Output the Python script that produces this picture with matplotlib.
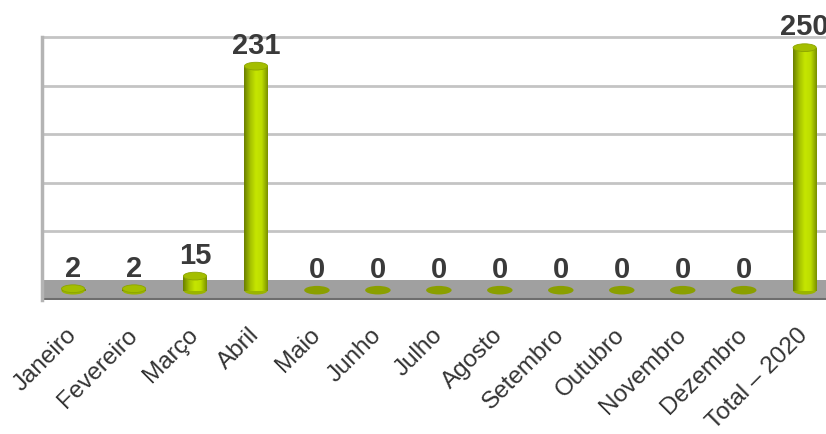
import numpy as np
import matplotlib.pyplot as plt
from matplotlib.colors import LinearSegmentedColormap
from matplotlib.patches import Ellipse, Rectangle

months = ["Janeiro", "Fevereiro", "Março", "Abril", "Maio", "Junho", "Julho",
          "Agosto", "Setembro", "Outubro", "Novembro", "Dezembro", "Total – 2020"]
values = [2, 2, 15, 231, 0, 0, 0, 0, 0, 0, 0, 0, 250]
grid_values = [50, 100, 150, 200, 250]

plt.rcParams["font.family"] = ["Liberation Sans", "DejaVu Sans"]

BAR_W = 0.38
ELL_H = 8.0
FRONT = -11.0  # bars stand in front of the back wall
body_cmap = LinearSegmentedColormap.from_list(
    "cyl", ["#6a7f00", "#a4c000", "#c6e600", "#bcdc00", "#7a9000"])

fig = plt.figure(figsize=(8.26, 4.34), dpi=100)
ax = fig.add_axes([42 / 826, 134 / 434, 784 / 826, 263 / 434])
ax.set_xlim(-0.51, 12.35)
ax.set_ylim(-20.6, 250)

# back wall grid
for g in grid_values:
    ax.axhline(g, color="#c4c4c4", lw=2, zorder=1, clip_on=False)

# floor
x0, x1 = ax.get_xlim()
ax.add_patch(Rectangle((x0, -20.6), x1 - x0, 20.6, facecolor="#a0a0a0",
                       edgecolor="none", zorder=2))
ax.axhline(-19.5, color="#6e6e6e", lw=2.2, zorder=2.5)

grad = np.linspace(0, 1, 64).reshape(1, -1)
for i, v in enumerate(values):
    if v == 0:
        ax.add_patch(Ellipse((i, FRONT + 0.5), BAR_W * 1.1, ELL_H * 1.1,
                             facecolor="#8a9f00", edgecolor="none", zorder=3))
        top = FRONT + 0.5 + ELL_H * 0.55
    else:
        ax.add_patch(Ellipse((i, FRONT), BAR_W, ELL_H, facecolor="#9ab400",
                             edgecolor="none", zorder=3))
        ax.imshow(grad, cmap=body_cmap, aspect="auto", zorder=3.5,
                  extent=(i - BAR_W / 2, i + BAR_W / 2, FRONT, FRONT + v))
        ax.add_patch(Ellipse((i, FRONT + v), BAR_W, ELL_H, facecolor="#a4be00",
                             edgecolor="#8ca400", lw=0.6, zorder=4))
        top = FRONT + v + ELL_H / 2
    ax.annotate(str(v), (i, top), xytext=(0, 6), textcoords="offset points",
                ha="center", va="baseline", fontsize=21, fontweight="bold",
                color="#3a3a3a", annotation_clip=False, zorder=5)

ax.set_xlim(x0, x1)
ax.set_ylim(-20.6, 250)

ax.set_xticks(range(len(months)))
ax.set_xticklabels(months, rotation=45, ha="right", va="center",
                   rotation_mode="anchor", fontsize=17.5, color="#333333")
ax.tick_params(axis="x", length=0, pad=23)
ax.set_yticks([])

for side in ["top", "right", "bottom"]:
    ax.spines[side].set_visible(False)
ax.spines["left"].set_color("#b4b4b4")
ax.spines["left"].set_linewidth(2.5)

fig.savefig("out.png", dpi=100)
